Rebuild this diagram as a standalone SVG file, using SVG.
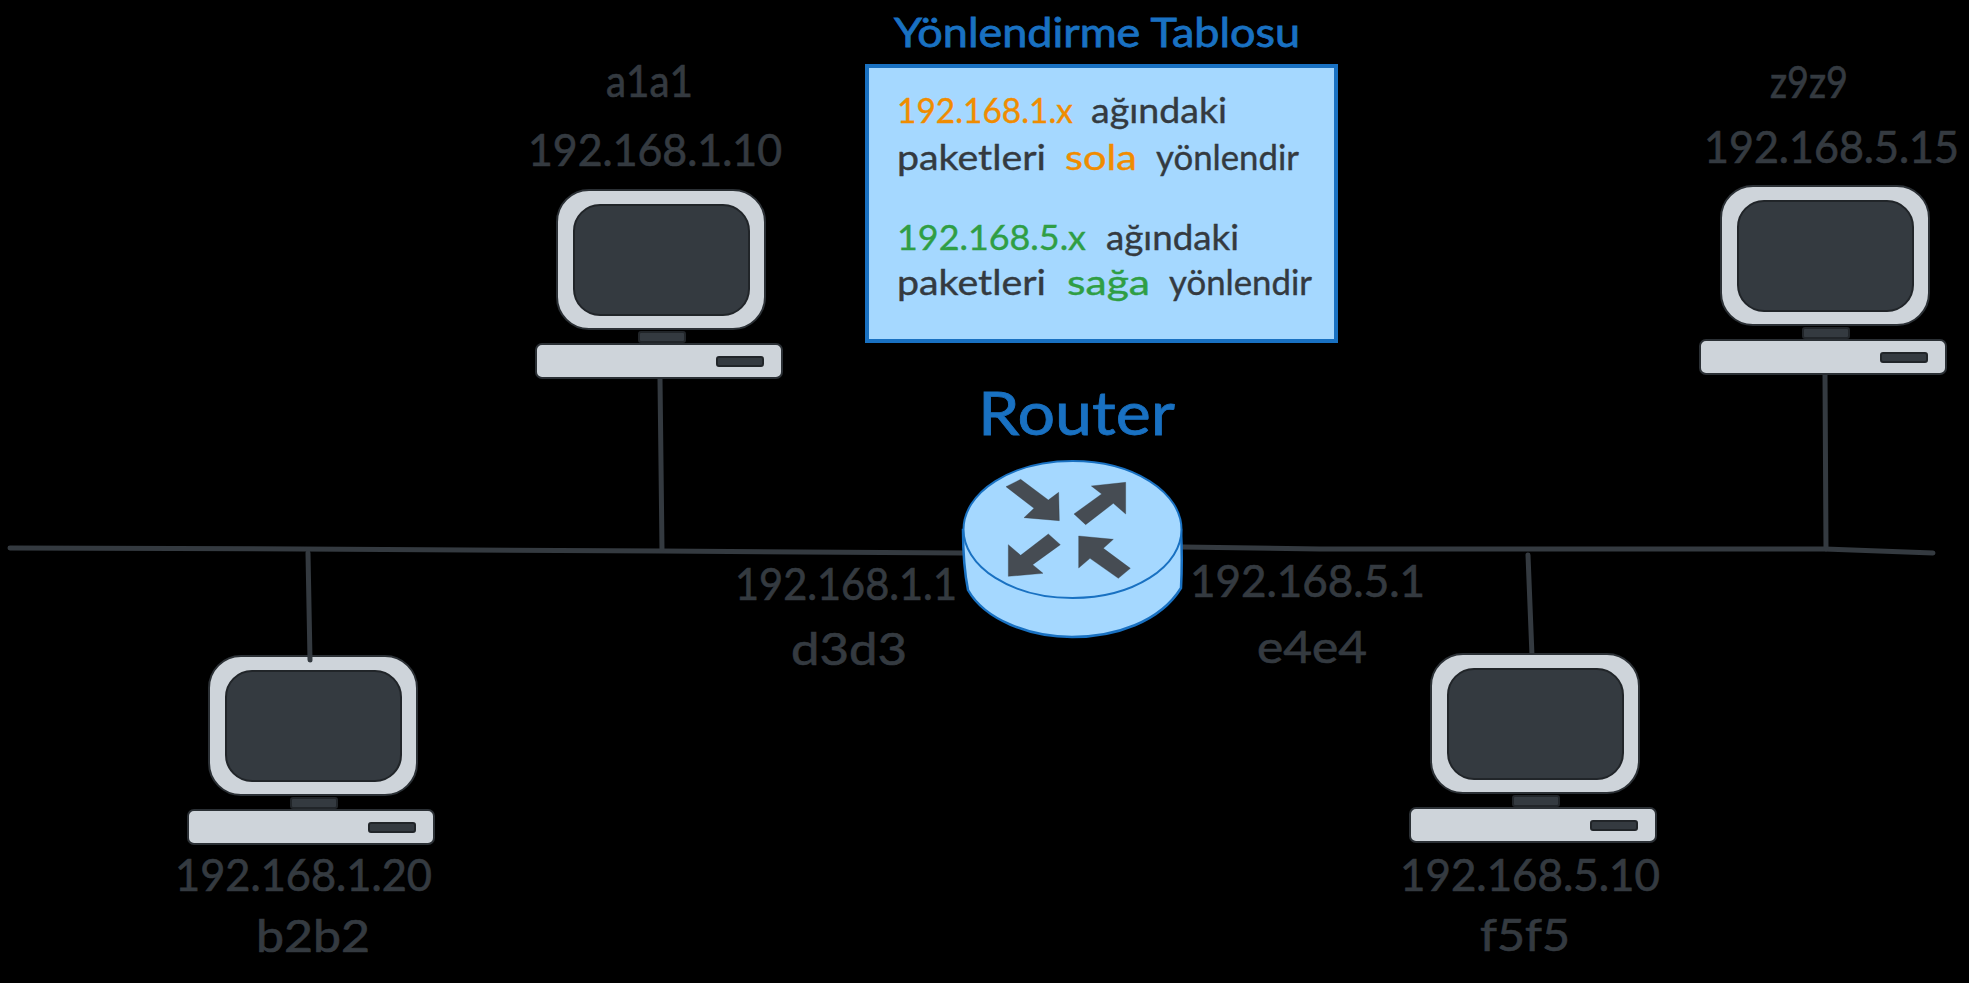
<svg xmlns="http://www.w3.org/2000/svg" width="1969" height="983" viewBox="0 0 1969 983">
<style>
text{font-family:"Lato","Noto Sans",sans-serif}
.lbl{font-size:44px;fill:#343a40;stroke:#343a40;stroke-width:.7}
.tbl{font-size:35px;fill:#343a40;stroke:#343a40;stroke-width:.4}
.o{fill:#f08c00;stroke:#f08c00}
.g{fill:#2f9e44;stroke:#2f9e44}
.b{fill:#1971c2;stroke:#1971c2;stroke-width:.8}
.wire{fill:none;stroke:#343a40;stroke-width:5;stroke-linecap:round;stroke-linejoin:round}
.pc{fill:#ced4da;stroke:#2b3035;stroke-width:2}
.dk{fill:#343a40;stroke:#212529;stroke-width:2}
.ar{fill:#464c53;stroke:#343a40;stroke-width:1}
</style>
<defs>
<g id="computer">
<rect class="dk" x="82" y="142" width="46" height="10" rx="2"/>
<rect class="pc" width="208" height="139" rx="32"/>
<rect class="dk" x="17" y="15" width="175" height="110" rx="26"/>
<rect class="pc" x="-21" y="154" width="246" height="34" rx="6"/>
<rect class="dk" x="160" y="167" width="46" height="9" rx="2"/>
</g>
</defs>
<rect width="1969" height="983" fill="#000"/>
<g id="connectors">
<path class="wire" d="M10 548 L300 549 L661 551 L963 553"/>
<path class="wire" d="M1182 547 L1320 549 L1825 549 L1933 553"/>
<path class="wire" d="M660 379 L662 550"/>
<path class="wire" d="M1825 375 L1826 549"/>
<path class="wire" d="M1528 555 L1532 656"/>
</g>
<g id="node-a1a1">
<use href="#computer" x="557" y="190"/>
<text class="lbl" x="606" y="97" textLength="87" lengthAdjust="spacingAndGlyphs">a1a1</text>
<text class="lbl" x="528" y="166" textLength="254" lengthAdjust="spacingAndGlyphs">192.168.1.10</text>
</g>
<g id="node-z9z9">
<use href="#computer" x="1721" y="186"/>
<text class="lbl" x="1770" y="98" textLength="78" lengthAdjust="spacingAndGlyphs">z9z9</text>
<text class="lbl" x="1704" y="163" textLength="255" lengthAdjust="spacingAndGlyphs">192.168.5.15</text>
</g>
<g id="node-b2b2">
<use href="#computer" x="209" y="656"/>
<path class="wire" d="M308 553 L310 660"/>
<text class="lbl" x="175" y="891" textLength="257" lengthAdjust="spacingAndGlyphs">192.168.1.20</text>
<text class="lbl" x="256" y="952" textLength="114" lengthAdjust="spacingAndGlyphs">b2b2</text>
</g>
<g id="node-f5f5">
<use href="#computer" x="1431" y="654"/>
<text class="lbl" x="1400" y="891" textLength="260" lengthAdjust="spacingAndGlyphs">192.168.5.10</text>
<text class="lbl" x="1480" y="951" textLength="90" lengthAdjust="spacingAndGlyphs">f5f5</text>
</g>
<g id="node-router">
<path d="M963 530 C963 560 966 580 968 590 C985 620 1030 637 1072 637 C1115 637 1160 622 1181 588 C1182 570 1182 550 1181 530 Z" fill="#a5d8ff" stroke="#1971c2" stroke-width="2.5"/>
<ellipse cx="1072.500" cy="529.500" rx="109" ry="68.500" fill="#a5d8ff" stroke="#1971c2" stroke-width="2"/>
<g transform="translate(900 370) scale(0.33333)">
<polygon class="ar" points="318,350 362,328 445,390 476,367 478,452 372,443 402,415"/>
<polygon class="ar" points="677,337 677,432 640,400 557,464 522,432 605,372 574,348"/>
<polygon class="ar" points="325,619 325,524 362,556 445,492 481,524 398,584 429,610"/>
<polygon class="ar" points="536,498 640,508 610,535 691,595 655,625 570,565 536,594"/>
</g>
<text x="978" y="435" font-size="60" class="b" textLength="197" lengthAdjust="spacingAndGlyphs">Router</text>
<text class="lbl" x="735" y="600" textLength="222" lengthAdjust="spacingAndGlyphs">192.168.1.1</text>
<text class="lbl" x="791" y="665" textLength="116" lengthAdjust="spacingAndGlyphs">d3d3</text>
<text class="lbl" x="1190" y="597" textLength="235" lengthAdjust="spacingAndGlyphs">192.168.5.1</text>
<text class="lbl" x="1257" y="663" textLength="110" lengthAdjust="spacingAndGlyphs">e4e4</text>
</g>
<g id="node-table">
<text x="894" y="47" font-size="40" class="b" textLength="406" lengthAdjust="spacingAndGlyphs">Yönlendirme Tablosu</text>
<rect x="867" y="66" width="469" height="275" fill="#a5d8ff" stroke="#1971c2" stroke-width="4"/>
<text class="tbl" y="123"><tspan class="o" x="897" textLength="176" lengthAdjust="spacingAndGlyphs">192.168.1.x</tspan><tspan x="1091" textLength="136" lengthAdjust="spacingAndGlyphs">ağındaki</tspan></text>
<text class="tbl" y="170"><tspan x="897" textLength="149" lengthAdjust="spacingAndGlyphs">paketleri</tspan><tspan class="o" x="1065" textLength="72" lengthAdjust="spacingAndGlyphs">sola</tspan><tspan x="1156" textLength="143" lengthAdjust="spacingAndGlyphs">yönlendir</tspan></text>
<text class="tbl" y="250"><tspan class="g" x="897" textLength="189" lengthAdjust="spacingAndGlyphs">192.168.5.x</tspan><tspan x="1106" textLength="133" lengthAdjust="spacingAndGlyphs">ağındaki</tspan></text>
<text class="tbl" y="295"><tspan x="897" textLength="149" lengthAdjust="spacingAndGlyphs">paketleri</tspan><tspan class="g" x="1067" textLength="83" lengthAdjust="spacingAndGlyphs">sağa</tspan><tspan x="1169" textLength="143" lengthAdjust="spacingAndGlyphs">yönlendir</tspan></text>
</g>
</svg>
